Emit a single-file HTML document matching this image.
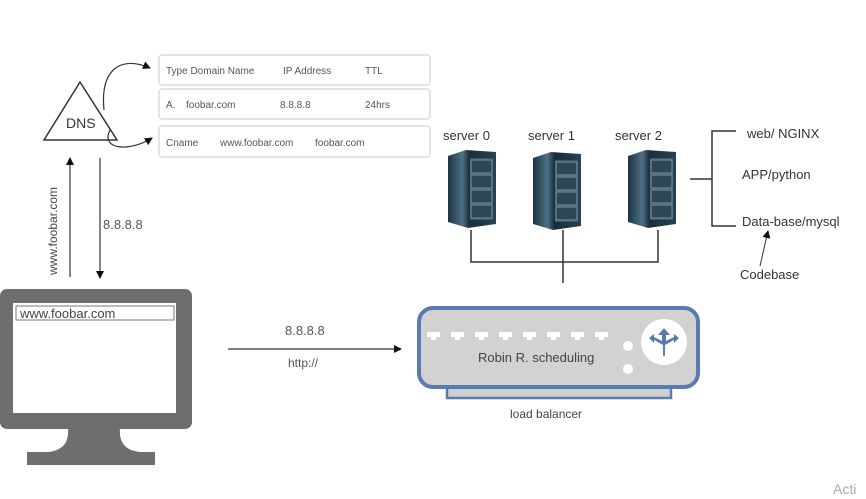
<!DOCTYPE html>
<html><head><style>
body{margin:0;background:#fff;}
svg{display:block;font-family:"Liberation Sans",sans-serif;}
</style></head><body>
<svg width="866" height="499" viewBox="0 0 866 499">
<defs>
<marker id="a" markerWidth="8" markerHeight="8" refX="7" refY="4" orient="auto" markerUnits="userSpaceOnUse"><path d="M0,0 L8,4 L0,8z" fill="#111"/></marker>
<linearGradient id="sv" x1="0" x2="1"><stop offset="0" stop-color="#1d3444"/><stop offset="0.3" stop-color="#4d7186"/><stop offset="0.45" stop-color="#1a2c38"/><stop offset="1" stop-color="#2a4252"/></linearGradient>
<g id="srv">
<path d="M2,6 L20,0 L50,2 L50,74 L22,78 L2,72z" fill="url(#sv)"/>
<rect x="24" y="8" width="23" height="62" fill="#3a5666"/>
<g stroke="#7896a6" stroke-width="1" fill="#2d4756">
<rect x="25" y="10" width="21" height="13"/><rect x="25" y="25" width="21" height="13"/><rect x="25" y="40" width="21" height="13"/><rect x="25" y="55" width="21" height="13"/>
</g>
</g>
</defs>
<!-- DNS -->
<polygon points="44,140 80,82 117,140" fill="#fff" stroke="#333" stroke-width="1.5"/>
<text x="66" y="128" font-size="14" fill="#333">DNS</text>
<path d="M104,110 C100,70 120,55 150,68" fill="none" stroke="#333" stroke-width="1.2" marker-end="url(#a)"/>
<path d="M110,130 C100,150 130,152 152,138" fill="none" stroke="#333" stroke-width="1.2" marker-end="url(#a)"/>
<!-- table -->
<g fill="#fff" stroke="#dcdcdc" stroke-width="1.5">
<rect x="159" y="55" width="271" height="30" rx="3"/>
<rect x="159" y="89" width="271" height="30" rx="3"/>
<rect x="159" y="126" width="271" height="31" rx="3"/>
</g>
<g font-size="10" fill="#555">
<text x="166" y="74">Type  Domain Name</text><text x="283" y="74">IP Address</text><text x="365" y="74">TTL</text>
<text x="166" y="108">A.</text><text x="186" y="108">foobar.com</text><text x="280" y="108">8.8.8.8</text><text x="365" y="108">24hrs</text>
<text x="166" y="146">Cname</text><text x="220" y="146">www.foobar.com</text><text x="315" y="146">foobar.com</text>
</g>
<!-- arrows -->
<line x1="70" y1="277" x2="70" y2="158" stroke="#333" stroke-width="1.2" marker-end="url(#a)"/>
<line x1="100" y1="158" x2="100" y2="278" stroke="#333" stroke-width="1.2" marker-end="url(#a)"/>
<text transform="translate(57,275) rotate(-90)" font-size="12" fill="#444">www.foobar.com</text>
<text x="103" y="229" font-size="13" fill="#555">8.8.8.8</text>
<!-- monitor -->
<rect x="0" y="289" width="192" height="140" rx="7" fill="#6e6e6e"/>
<rect x="13" y="303" width="163" height="110" fill="#fff"/>
<rect x="16" y="306" width="158" height="14" fill="#fff" stroke="#777" stroke-width="1"/>
<text x="20" y="318" font-size="13" fill="#444">www.foobar.com</text>
<path d="M68,428 L120,428 Q118,450 140,452 L155,452 L155,465 L27,465 L27,452 L48,452 Q70,450 68,428z" fill="#6e6e6e"/>
<!-- http arrow -->
<line x1="228" y1="349" x2="401" y2="349" stroke="#333" stroke-width="1.2" marker-end="url(#a)"/>
<text x="285" y="335" font-size="13" fill="#555">8.8.8.8</text>
<text x="288" y="367" font-size="12" fill="#555">http://</text>
<!-- load balancer -->
<rect x="447" y="385" width="224" height="13" fill="#d0d0d0" stroke="#5a7bb0" stroke-width="2.5"/>
<rect x="419" y="308" width="279" height="79" rx="14" fill="#d2d2d2" stroke="#5a7bb0" stroke-width="4"/>
<g fill="#fff">
<path d="M427,332h13v5h-4v3h-5v-3h-4z"/><path d="M451,332h13v5h-4v3h-5v-3h-4z"/><path d="M475,332h13v5h-4v3h-5v-3h-4z"/><path d="M499,332h13v5h-4v3h-5v-3h-4z"/>
<path d="M523,332h13v5h-4v3h-5v-3h-4z"/><path d="M547,332h13v5h-4v3h-5v-3h-4z"/><path d="M571,332h13v5h-4v3h-5v-3h-4z"/><path d="M595,332h13v5h-4v3h-5v-3h-4z"/>
<circle cx="628" cy="346" r="5"/><circle cx="628" cy="369" r="5"/>
<circle cx="664" cy="342" r="23"/>
</g>
<path d="M664,328 l-6,7h4v6l-8,-4v-3l-5,4 5,5v-3l9,5v11h2v-11l9,-5v3l5,-5 -5,-4v3l-8,4v-6h4z" fill="#5a7bb0"/>
<text x="478" y="362" font-size="13" fill="#444">Robin R. scheduling</text>
<text x="510" y="418" font-size="12" fill="#444">load balancer</text>
<!-- servers -->
<g font-size="13" fill="#333">
<text x="443" y="140">server 0</text><text x="528" y="140">server 1</text><text x="615" y="140">server 2</text>
</g>
<use href="#srv" x="446" y="150"/>
<use href="#srv" x="531" y="152"/>
<use href="#srv" x="626" y="150"/>
<g stroke="#333" stroke-width="1.5" fill="none">
<polyline points="471,230 471,262 658,262 658,230"/>
<line x1="563" y1="230" x2="563" y2="283"/>
<line x1="690" y1="179" x2="712" y2="179"/>
<polyline points="736,131 712,131 712,226 736,226"/>
</g>
<g font-size="13" fill="#333">
<text x="747" y="138">web/ NGINX</text>
<text x="742" y="179">APP/python</text>
<text x="742" y="226">Data-base/mysql</text>
<text x="740" y="279">Codebase</text>
</g>
<line x1="760" y1="266" x2="768" y2="231" stroke="#333" stroke-width="1" marker-end="url(#a)"/>
<text x="833" y="494" font-size="14" fill="#aaa">Acti</text>
</svg>
</body></html>
